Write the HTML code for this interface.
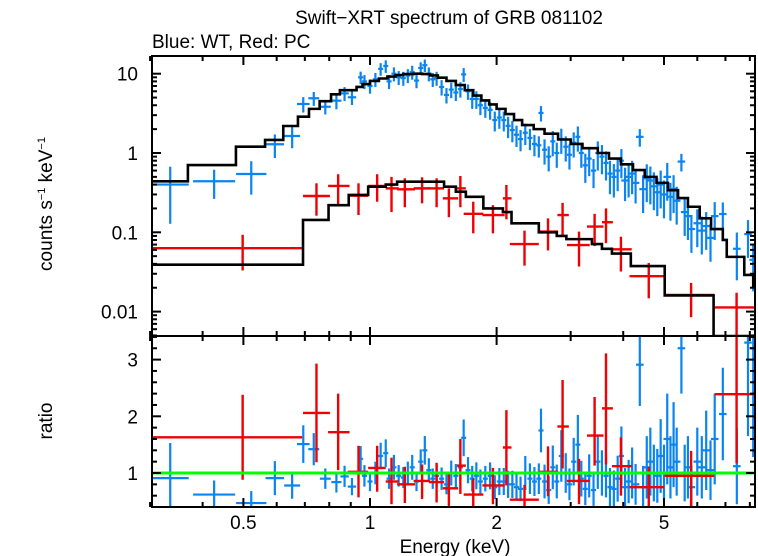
<!DOCTYPE html>
<html><head><meta charset="utf-8"><style>
html,body{margin:0;padding:0;background:#fff;}
svg{display:block;font-family:"Liberation Sans",sans-serif;}
</style></head><body>
<svg id="chart" width="758" height="556" viewBox="0 0 758 556" xmlns="http://www.w3.org/2000/svg">
<text x="449" y="24" font-size="19" text-anchor="middle">Swift−XRT spectrum of GRB 081102</text>
<text x="152" y="48" font-size="19">Blue: WT, Red: PC</text>
<text transform="translate(52,204) rotate(-90)" font-size="19" text-anchor="middle">counts s<tspan font-size="11" dy="-7">−1</tspan><tspan dy="7"> keV</tspan><tspan font-size="11" dy="-7">−1</tspan></text>
<text transform="translate(52,421) rotate(-90)" font-size="19" text-anchor="middle">ratio</text>
<text x="455" y="553" font-size="19" text-anchor="middle">Energy (keV)</text>
<g id="marks"></g>
<g id="axes"></g>
</svg>
<script>
// ---- data ----
const redE   = [0.498,0.746,0.84,0.939,1.04,1.125,1.21,1.33,1.44,1.54,1.64,1.76,1.96,2.11,2.33,2.65,2.87,3.14,3.42,3.64,3.95,4.6,5.8,7.44];
const redElo = [0.303,0.693,0.795,0.885,0.99,1.09,1.16,1.27,1.38,1.49,1.61,1.67,1.85,2.07,2.15,2.52,2.79,2.94,3.28,3.56,3.76,4.14,5.02,6.6];
const redEhi = [0.69,0.803,0.894,0.99,1.09,1.17,1.28,1.39,1.5,1.62,1.69,1.86,2.09,2.17,2.52,2.8,2.97,3.33,3.59,3.78,4.19,5.0,6.58,8.35];
const redV   = [0.063,0.287,0.384,0.29,0.384,0.358,0.348,0.358,0.358,0.268,0.358,0.171,0.165,0.268,0.071,0.102,0.165,0.069,0.118,0.134,0.061,0.028,0.0162,0.0113];
const redVlo = [0.033,0.162,0.227,0.165,0.243,0.18,0.207,0.232,0.207,0.155,0.207,0.097,0.097,0.146,0.038,0.059,0.093,0.037,0.067,0.073,0.032,0.0147,0.0085,0.003];
const redVhi = [0.093,0.415,0.54,0.415,0.54,0.5,0.48,0.494,0.48,0.358,0.513,0.243,0.22,0.395,0.105,0.15,0.235,0.102,0.171,0.2,0.088,0.041,0.023,0.0173];
const redR   = [1.63,2.06,1.72,1.02,1.09,0.85,0.80,0.86,0.84,0.73,1.13,0.62,0.78,1.45,0.53,1.02,1.82,0.86,1.66,2.14,1.12,0.75,0.95,2.39];
const redRlo = [0.88,1.19,1.05,0.57,0.67,0.45,0.47,0.54,0.48,0.39,0.63,0.36,0.45,0.78,0.36,0.59,1.08,0.45,1.13,1.15,0.6,0.39,0.36,1.17];
const redRhi = [2.38,2.93,2.40,1.48,1.48,1.27,1.11,1.15,1.18,1.02,1.6,0.9,1.09,2.11,0.79,1.47,2.64,1.25,2.34,3.11,1.63,1.11,1.39,3.6];

const blueE = [0.335,0.426,0.522,0.594,0.653,0.694,0.735,0.783,0.832,0.87,0.906,0.95,0.97,1.00,1.03,1.06,1.09,1.11,1.14,1.17,1.20,1.23,1.26,1.29,1.32,1.35,1.38,1.41,1.44,1.48,1.52,1.56,1.60,1.64,1.67,1.71,1.75,1.79,1.83,1.88,1.93,1.98,2.03,2.08,2.13,2.18,2.23,2.28,2.34,2.40,2.46,2.52,2.55,2.60,2.66,2.72,2.78,2.85,2.92,2.98,3.05,3.12,3.18,3.25,3.32,3.40,3.48,3.56,3.64,3.72,3.80,3.88,3.96,4.04,4.12,4.20,4.28,4.38,4.46,4.55,4.64,4.73,4.82,4.91,5.0,5.09,5.18,5.27,5.36,5.5,5.6,5.7,5.81,6.0,6.15,6.3,6.45,6.6,6.9,7.45,7.92,8.15];
const blueV = [0.40,0.44,0.543,1.29,1.64,4.15,4.9,3.83,4.57,5.65,5.04,9.0,8.0,7.0,8.5,11.5,12.5,8.0,10.0,9.0,8.8,9.5,10.5,8.2,11.8,12.8,10.0,8.5,8.8,6.8,5.4,6.3,5.8,6.4,9.8,6.0,4.8,4.8,4.0,3.7,3.5,2.6,2.8,2.6,2.2,1.95,1.7,1.5,1.8,1.55,1.3,1.25,3.2,1.1,0.9,1.4,1.0,1.5,1.2,0.95,1.35,1.6,1.0,0.7,0.85,0.6,1.0,0.9,0.75,0.55,0.5,0.6,0.8,0.45,0.5,0.55,0.42,1.6,0.35,0.48,0.45,0.38,0.32,0.4,0.3,0.5,0.28,0.35,0.25,0.78,0.18,0.16,0.11,0.13,0.105,0.12,0.085,0.16,0.17,0.062,0.095,0.045];
const blueErr = [0.68,0.4,0.45,0.33,0.3,0.22,0.2,0.2,0.22,0.2,0.2,0.18,0.2,0.2,0.2,0.18,0.18,0.2,0.2,0.2,0.2,0.2,0.2,0.2,0.18,0.18,0.2,0.2,0.2,0.22,0.22,0.22,0.22,0.22,0.2,0.22,0.25,0.25,0.25,0.25,0.25,0.28,0.28,0.28,0.3,0.3,0.3,0.3,0.3,0.3,0.3,0.3,0.22,0.35,0.35,0.35,0.35,0.35,0.35,0.35,0.35,0.35,0.35,0.4,0.4,0.4,0.4,0.4,0.4,0.45,0.45,0.45,0.4,0.45,0.45,0.45,0.45,0.25,0.5,0.5,0.5,0.5,0.5,0.5,0.5,0.5,0.5,0.5,0.5,0.25,0.5,0.5,0.5,0.5,0.5,0.5,0.5,0.5,0.4,0.6,0.5,0.6];
const blueR = [0.91,0.62,0.47,0.91,0.78,1.51,1.42,0.9,0.84,0.94,0.76,1.25,0.95,0.85,1.0,1.3,1.35,0.9,1.1,0.95,0.92,1.0,1.1,0.85,1.2,1.4,1.05,0.9,0.95,0.9,0.8,1.0,0.95,1.1,1.62,1.05,0.9,0.95,0.85,0.9,0.95,0.75,0.85,0.85,0.8,0.8,0.75,0.72,1.0,0.9,0.85,0.9,1.75,0.85,0.7,1.1,0.85,1.3,1.0,0.8,1.2,1.5,0.9,0.72,0.95,0.7,1.2,1.0,0.95,0.75,0.72,0.9,1.3,0.75,0.85,1.0,0.8,2.91,0.75,1.1,1.2,1.0,0.95,1.3,1.0,1.6,1.1,1.5,1.2,3.2,1.0,1.1,0.75,1.2,1.1,1.4,1.05,1.6,2.04,1.12,3.3,3.2];

const wtModelE = [0.303,0.369,0.48,0.563,0.622,0.674,0.716,0.759,0.808,0.848,0.929,0.96,1.0,1.05,1.1,1.15,1.2,1.27,1.33,1.39,1.45,1.52,1.6,1.68,1.76,1.84,1.92,2.0,2.1,2.2,2.3,2.45,2.6,2.8,3.0,3.2,3.48,3.7,3.95,4.22,4.5,4.8,5.11,5.4,5.7,6.08,6.47,6.9,7.05,7.76,8.15,8.35];
const wtModelV = [0.44,0.705,1.2,1.46,2.19,2.87,3.6,4.5,5.5,6.2,6.8,7.4,8.1,8.7,9.2,9.6,9.9,10.0,9.9,9.5,8.9,8.1,7.2,6.2,5.3,4.6,4.1,3.6,3.1,2.6,2.25,2.0,1.75,1.48,1.3,1.15,1.0,0.85,0.72,0.61,0.5,0.42,0.34,0.27,0.21,0.15,0.11,0.08,0.049,0.029,0.021,0.021];
const pcModelE = [0.303,0.693,0.797,0.89,0.99,1.09,1.16,1.5,1.6,1.69,1.86,2.07,2.17,2.52,2.78,2.93,3.37,3.56,3.76,4.17,5.02,6.56,8.35];
const pcModelV = [0.039,0.143,0.22,0.296,0.376,0.40,0.435,0.376,0.325,0.28,0.2,0.18,0.13,0.1,0.09,0.082,0.071,0.062,0.054,0.0375,0.016,0.003,0.003];

const xTicksMajor = [0.5,1,2,5];
const xTicksMinor = [0.3,0.4,0.6,0.7,0.8,0.9,3,4,6,7,8];
const yTopMajor = [0.01,0.1,1,10];
const yTopLabels = ["0.01","0.1","1","10"];
const yBotMajor = [1,2,3];

// ---- scales ----
const L=152,R=755,T1=56,B1=336,B2=507;
const xs=e=>370+420.6*Math.log10(e);
const ys=v=>{let y=153-79.3*Math.log10(v);return Math.max(T1,Math.min(B1,y));};
const yr=r=>{let y=473-56.7*(r-1);return Math.max(B1,Math.min(B2,y));};
const NS="http://www.w3.org/2000/svg";
const marks=document.getElementById('marks'), axes=document.getElementById('axes');
function mk(tag,attrs,parent){const e=document.createElementNS(NS,tag);for(const k in attrs)e.setAttribute(k,attrs[k]);parent.appendChild(e);return e;}
const BLUE='#0a84f0', RED='#f00000';

const defs=mk('defs',{},marks);
const c1=mk('clipPath',{id:'clipTop'},defs); mk('rect',{x:L,y:T1,width:R-L,height:B1-T1},c1);
const c2=mk('clipPath',{id:'clipBot'},defs); mk('rect',{x:L,y:B1,width:R-L,height:B2-B1},c2);
const gTop=mk('g',{'clip-path':'url(#clipTop)'},marks);
const gBot=mk('g',{'clip-path':'url(#clipBot)'},marks);

function cross(g,x1,x2,y,y1,y2,col,w){
  const grp=mk('g',{stroke:col,'stroke-width':w,fill:'none'},g);
  mk('line',{x1:x1,x2:x2,y1:y,y2:y},grp);
  mk('line',{x1:(x1+x2)/2,x2:(x1+x2)/2,y1:y1,y2:y2},grp);
  return grp;
}
function halfW(i){ if(i<11) return [0.044,0.05,0.036,0.022,0.019,0.015,0.013,0.013,0.012,0.01,0.01][i]; return blueE[i]>4?0.009:0.006; }

for(let i=0;i<blueE.length;i++){
  const hw=halfW(i);
  const xa=xs(blueE[i]*Math.pow(10,-hw)), xb=xs(blueE[i]*Math.pow(10,hw));
  const f=blueErr[i];
  const p=cross(gTop,xa,xb,ys(blueV[i]),ys(blueV[i]*(1+f)),ys(Math.max(blueV[i]*(1-f),1e-4)),BLUE,2.2);
  
  
  const r=blueR[i];
  const q=cross(gBot,xa,xb,yr(r),yr(r*(1+f)),yr(r*(1-f)),BLUE,2.2);
  
  
}
for(let i=0;i<redE.length;i++){
  const xa=xs(redElo[i]), xb=xs(redEhi[i]), xc=xs(redE[i]);
  const p=mk('g',{stroke:RED,'stroke-width':2.4},gTop);
  
  
  mk('line',{x1:xa,x2:xb,y1:ys(redV[i]),y2:ys(redV[i])},p);
  mk('line',{x1:xc,x2:xc,y1:ys(redVlo[i]),y2:ys(redVhi[i])},p);
  const q=mk('g',{stroke:RED,'stroke-width':2.4},gBot);
  
  
  mk('line',{x1:xa,x2:xb,y1:yr(redR[i]),y2:yr(redR[i])},q);
  mk('line',{x1:xc,x2:xc,y1:yr(redRlo[i]),y2:yr(redRhi[i])},q);
}
function stepPath(E,V){let d='M'+xs(E[0])+','+ys(V[0]);for(let i=1;i<E.length;i++){d+=' H'+xs(E[i])+' V'+ys(V[i]);}return d;}
const m1=mk('path',{d:stepPath(wtModelE,wtModelV),fill:'none',stroke:'#000','stroke-width':2.6},gTop);


const m2=mk('path',{d:stepPath(pcModelE,pcModelV),fill:'none',stroke:'#000','stroke-width':2.6},gTop);


const gl=mk('line',{x1:L,x2:R,y1:yr(1),y2:yr(1),stroke:'#00ff00','stroke-width':3},gBot);



const frames=[[T1,B1],[B1,B2]];
for(const [t,b] of frames){
  const fr=mk('rect',{x:L,y:t,width:R-L,height:b-t,fill:'none',stroke:'#000','stroke-width':2},axes);
  
  
  for(const v of xTicksMajor){const x=xs(v);mk('line',{x1:x,x2:x,y1:t,y2:t+9,stroke:'#000','stroke-width':2},axes);mk('line',{x1:x,x2:x,y1:b,y2:b-9,stroke:'#000','stroke-width':2},axes);}
  for(const v of xTicksMinor){const x=xs(v);mk('line',{x1:x,x2:x,y1:t,y2:t+5,stroke:'#000','stroke-width':2},axes);mk('line',{x1:x,x2:x,y1:b,y2:b-5,stroke:'#000','stroke-width':2},axes);}
}
for(let i=0;i<xTicksMajor.length;i++){
  const tx=mk('text',{x:xs(xTicksMajor[i]),y:529,'font-size':19,'text-anchor':'middle'},axes);
  tx.textContent=String(xTicksMajor[i]);
  
  
}
for(let d=-3;d<=1;d++){
  for(let m=1;m<10;m++){
    const v=m*Math.pow(10,d); const y=153-79.3*Math.log10(v);
    if(y<T1||y>B1) continue;
    const len=m===1?9:5;
    mk('line',{x1:L,x2:L+len,y1:y,y2:y,stroke:'#000','stroke-width':2},axes);
    mk('line',{x1:R,x2:R-len,y1:y,y2:y,stroke:'#000','stroke-width':2},axes);
  }
}
for(let i=0;i<yTopMajor.length;i++){
  const tx=mk('text',{x:138,y:ys(yTopMajor[i])+7,'font-size':19,'text-anchor':'end'},axes);
  tx.textContent=yTopLabels[i];
  
  
}
for(let k=4;k<=34;k++){
  const r=k/10; const y=473-56.7*(r-1);
  if(y<B1||y>B2) continue;
  const len=(k%10===0)?9:5;
  if(k%2!==0 && k%10!==0) continue;
  mk('line',{x1:L,x2:L+len,y1:y,y2:y,stroke:'#000','stroke-width':2},axes);
  mk('line',{x1:R,x2:R-len,y1:y,y2:y,stroke:'#000','stroke-width':2},axes);
}
for(const r of yBotMajor){
  const tx=mk('text',{x:138,y:yr(r)+7,'font-size':19,'text-anchor':'end'},axes);
  tx.textContent=String(r);
  
  
}
</script>
</body></html>
